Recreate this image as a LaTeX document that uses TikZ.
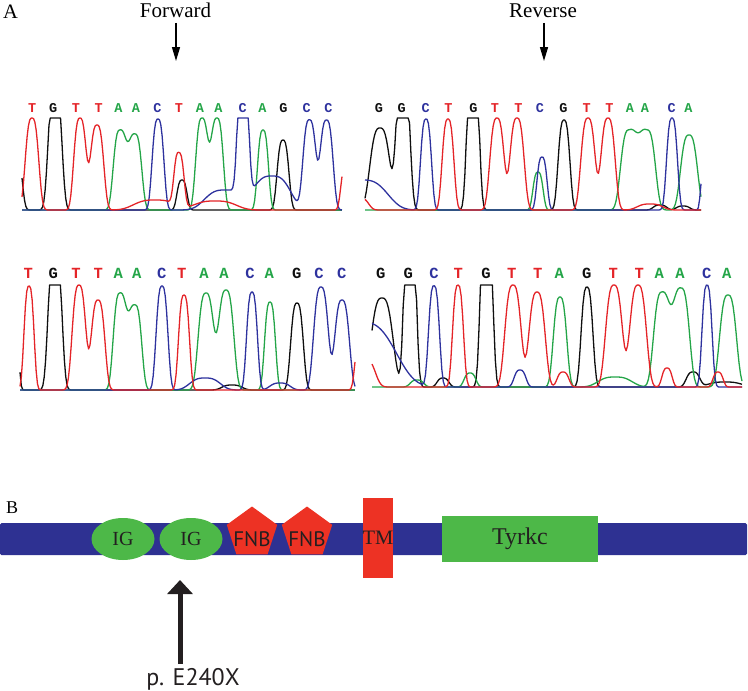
\documentclass[tikz,border=0pt]{standalone}
\usepackage{fontspec}
\setmainfont{Liberation Serif}
\newfontfamily\basefont{Liberation Mono}
\newfontfamily\labsans{PT Sans}
\usetikzlibrary{arrows.meta,shapes.geometric}
\definecolor{cR}{RGB}{228,36,40}
\definecolor{cK}{RGB}{15,15,15}
\definecolor{cG}{RGB}{36,165,72}
\definecolor{cB}{RGB}{46,50,158}
\definecolor{colT}{RGB}{228,36,40}
\definecolor{colG}{RGB}{15,15,15}
\definecolor{colA}{RGB}{36,165,72}
\definecolor{colC}{RGB}{46,50,158}
\definecolor{barblue}{RGB}{46,49,146}
\definecolor{domgreen}{RGB}{77,184,72}
\definecolor{domred}{RGB}{237,50,36}
\definecolor{ink}{RGB}{35,31,32}
\newcommand\trc[5]{\draw[trace,#1] plot[domain=#3,samples=250] (\x,{#2-min(#4,#5)});}
\begin{document}
\begin{tikzpicture}[x=1pt,y=-1pt,
  declare function={g(\ga,\gb,\gh,\gw)=\gh*exp(-(min(abs((\ga-\gb)/\gw),12))^3);},
  trace/.style={line width=1.3pt,line join=round},
  lab/.style={inner sep=0pt,anchor=base,font=\fontsize{21}{24}\selectfont},
  panel/.style={inner sep=0pt,anchor=base west},
  ntop/.style={inner sep=0pt,anchor=base,font=\basefont\bfseries\fontsize{13.5}{15}\selectfont},
  nbot/.style={inner sep=0pt,anchor=base,font=\basefont\bfseries\fontsize{15.5}{17}\selectfont},
  thinarr/.style={line width=1.4pt,-{Triangle[width=8pt,length=14pt]},shorten <=5pt},
  bigarr/.style={line width=5pt,draw=ink,-{Triangle[width=25pt,length=14pt]},shorten <=4pt},
  dom/.style={inner sep=0pt,text=ink},
]
\useasboundingbox (0,0) rectangle (748,691);

% ---------- Panel A labels ----------
\node[panel,font=\fontsize{20.5}{24}\selectfont] (lA) at (3,18.3) {A};
\node[lab] (fwd) at (175.5,17.5) {Forward};
\coordinate (fwdtip) at (176,61);
\draw[thinarr] (fwd.south -| fwdtip) -- (fwdtip);
\node[lab] (rev) at (543,17.5) {Reverse};
\coordinate (revtip) at (544,61);
\draw[thinarr] (rev.south -| revtip) -- (revtip);

% ---------- base calls ----------
\foreach \bs/\px [count=\i] in {T/32.3,G/53.3,T/76,T/98.7,A/118.3,A/136,C/157.3,T/179,A/200,A/218.3,C/242.7,A/262.3,G/283.3,C/306.7,C/328.3}
  \node[ntop,text=col\bs] (tl\i) at (\px,112.7) {\bs};
\foreach \bs/\px [count=\i] in {G/379,G/401.7,C/425.7,T/448.3,G/473.3,T/495,T/518.3,C/540,G/563.3,T/586.7,T/609.3,A/630,A/645,C/671.7,A/688.3}
  \node[ntop,text=col\bs] (tr\i) at (\px,112.7) {\bs};
\foreach \bs/\px [count=\i] in {T/28.3,G/53.3,T/76,T/98.3,A/118.3,A/136.7,C/161.7,T/181.7,A/204,A/224,C/250,A/269.3,G/296.7,C/319,C/341.7}
  \node[nbot,text=col\bs] (bl\i) at (\px,278.3) {\bs};
\foreach \bs/\px [count=\i] in {G/380.7,G/408.3,C/434,T/458.3,G/486,T/511.7,T/537.7,A/559.3,G/586.7,T/613.3,T/639.3,A/659.3,A/680,C/706.7,A/726.7}
  \node[nbot,text=col\bs] (br\i) at (\px,278.3) {\bs};

% ---------- traces: top left ----------
\trc{cK}{210}{22:342}{92}{g(\x,16,60,7)+g(\x,55,130,8)+g(\x,182,30,6)+g(\x,283,70,7)}
\trc{cG}{210}{22:342}{92}{g(\x,120,80,8)+g(\x,135,76,8)+g(\x,202,92,7.5)+g(\x,217,92,7.5)+g(\x,263,80,6.5)}
\trc{cB}{210}{22:342}{92}{g(\x,158,91,7)+g(\x,243,140,6.5)+g(\x,309.5,90,7.8)+g(\x,326.5,90,7.8)+g(\x,225,20,24)+g(\x,272,34,22)}
\trc{cR}{210}{22:342}{92}{g(\x,32,92,8)+g(\x,80,92,7.5)+g(\x,97,85,8)+g(\x,179,53,6)+g(\x,155,10,25)+g(\x,215,9,25)+g(\x,346,45,6)}

% ---------- traces: top right ----------
\trc{cK}{210}{365:701}{92}{g(\x,380,82,12)+g(\x,403,150,8)+g(\x,473,170,7)+g(\x,564,90,7)+g(\x,660,5,8)+g(\x,683,4,8)}
\trc{cG}{210}{365:701}{92}{g(\x,538,38,6)+g(\x,629,80,10)+g(\x,647,80,10)+g(\x,689,75,10)}
\trc{cB}{210}{365:701}{92}{g(\x,362,30,30)+g(\x,426,91,6.5)+g(\x,542,53,6)+g(\x,672,92,6.5)+g(\x,704,40,4)}
\trc{cR}{210}{365:701}{92}{g(\x,360,12,10)+g(\x,448,91,7)+g(\x,497,92,8.5)+g(\x,517,92,8.5)+g(\x,588,92,8.5)+g(\x,608,92,8.5)+g(\x,650,6,15)}

% ---------- traces: bottom left ----------
\trc{cK}{390}{20:355}{105}{g(\x,14,100,5)+g(\x,55,150,8)+g(\x,297,87,7.5)+g(\x,232,5,12)}
\trc{cG}{390}{20:355}{105}{g(\x,120,97,8)+g(\x,135,85,8)+g(\x,206,97,9.3)+g(\x,226,100,9.3)+g(\x,270,88,6.5)}
\trc{cB}{390}{20:355}{105}{g(\x,162,104,7)+g(\x,252,98,6.5)+g(\x,321,103,8.8)+g(\x,342,90,8.8)+g(\x,205,12,18)+g(\x,280,7,12)}
\trc{cR}{390}{20:355}{105}{g(\x,29,104,6)+g(\x,79,105,8.2)+g(\x,98,90,8.2)+g(\x,184,95,6.5)+g(\x,360,50,6)}

% ---------- traces: bottom right ----------
\trc{cK}{387}{372:742}{102}{g(\x,382,89,13)+g(\x,410,200,7)+g(\x,486.5,200,7)+g(\x,587,100,7)+g(\x,443,9,7)+g(\x,693,15,8)+g(\x,725,5,20)}
\trc{cG}{387}{372:742}{102}{g(\x,560,90,8)+g(\x,662,95,10)+g(\x,681,99,10)+g(\x,728,92,10)+g(\x,470,14,7)+g(\x,417,7,8)+g(\x,615,10,20)}
\trc{cB}{387}{372:742}{102}{g(\x,360,65,42)+g(\x,434,101,6.5)+g(\x,520,17,7)+g(\x,707,102,6)}
\trc{cR}{387}{372:742}{102}{g(\x,365,28,12)+g(\x,458,102,6.5)+g(\x,513,102,9.7)+g(\x,537,95,9.7)+g(\x,563,15,7)+g(\x,614,102,10)+g(\x,638,102,10)+g(\x,667,19,6)+g(\x,718,15,6)}

% ---------- Panel B ----------
\node[panel,font=\fontsize{18}{20}\selectfont] (lB) at (6,513.3) {B};
\node[fill=barblue,rounded corners=1.5pt,minimum width=747pt,minimum height=32pt,inner sep=0pt] (bar) at (373.5,539) {};
\node[dom,ellipse,fill=domgreen,minimum width=63pt,minimum height=42pt,font=\fontsize{20}{22}\selectfont] (ig1) at (123,539) {IG};
\node[dom,ellipse,fill=domgreen,minimum width=63pt,minimum height=42pt,font=\fontsize{20}{22}\selectfont] (ig2) at (191,539) {IG};
\node[regular polygon,regular polygon sides=5,fill=domred,minimum size=53pt,inner sep=0pt] (fnb1) at (252,533) {};
\node[regular polygon,regular polygon sides=5,fill=domred,minimum size=53pt,inner sep=0pt] (fnb2) at (307,533) {};
\node[dom,font=\labsans\fontsize{21}{23}\selectfont] (fnb1t) at (252,539.5) {FNB};
\node[dom,font=\labsans\fontsize{21}{23}\selectfont] (fnb2t) at (307,539.5) {FNB};
\node[dom,fill=domred,minimum width=30pt,minimum height=80pt,font=\fontsize{20.5}{22}\selectfont] (tm) at (378,538) {TM};
\node[dom,fill=domgreen,minimum width=156pt,minimum height=46pt,font=\fontsize{24}{28}\selectfont] (tyr) at (520,539) {Tyrkc};

\node[inner sep=0pt,anchor=base,text=ink,font=\labsans\fontsize{24}{28}\selectfont] (mut) at (193,685) {p. E240X};
\coordinate (mtip) at (180,580);
\draw[bigarr] (mut.north -| mtip) -- (mtip);
\end{tikzpicture}
\end{document}
